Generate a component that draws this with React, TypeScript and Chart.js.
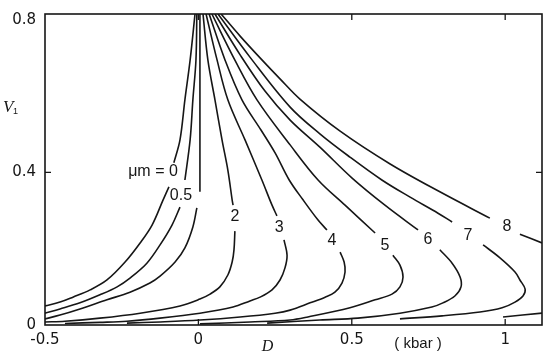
import React, { useEffect, useRef } from "react";
import { Chart, registerables } from "chart.js";

Chart.register(...registerables);

type Pt = [number, number] | null;

// Curves (D in kbar, V1), null marks a break where the curve label sits
const mu0: Pt[] = [[-0.011, 0.815], [-0.027, 0.694], [-0.044, 0.590], [-0.060, 0.485], [-0.080, 0.425], null, [-0.096, 0.362], [-0.115, 0.328], [-0.151, 0.262], [-0.190, 0.215], [-0.239, 0.165], [-0.298, 0.118], [-0.353, 0.092], [-0.409, 0.073], [-0.451, 0.060], [-0.500, 0.050]];
const mu05: Pt[] = [[-0.005, 0.815], [-0.008, 0.694], [-0.018, 0.590], [-0.027, 0.485], [-0.044, 0.380], null, [-0.060, 0.309], [-0.086, 0.262], [-0.125, 0.210], [-0.168, 0.162], [-0.223, 0.123], [-0.265, 0.100], [-0.321, 0.079], [-0.386, 0.058], [-0.451, 0.042], [-0.500, 0.031]];
const mu1: Pt[] = [[0.005, 0.815], [0.005, 0.694], [0.005, 0.590], [0.005, 0.459], [0.005, 0.349], null, [-0.005, 0.307], [-0.018, 0.257], [-0.044, 0.202], [-0.076, 0.165], [-0.125, 0.128], [-0.158, 0.110], [-0.223, 0.086], [-0.298, 0.066], [-0.386, 0.042], [-0.451, 0.026], [-0.500, 0.016]];
const mu2: Pt[] = [[0.015, 0.815], [0.031, 0.694], [0.054, 0.590], [0.077, 0.485], [0.096, 0.406], [0.110, 0.328], [0.113, 0.314], null, [0.119, 0.246], [0.116, 0.197], [0.110, 0.165], [0.096, 0.131], [0.070, 0.100], [0.038, 0.081], [0.005, 0.068], [-0.060, 0.050], [-0.190, 0.031], [-0.321, 0.018], [-0.435, 0.010], [-0.500, 0.008]];
const mu3: Pt[] = [[0.025, 0.815], [0.061, 0.694], [0.096, 0.590], [0.152, 0.485], [0.207, 0.380], [0.240, 0.314], [0.256, 0.286], null, [0.279, 0.223], [0.289, 0.183], [0.282, 0.149], [0.266, 0.118], [0.240, 0.092], [0.201, 0.073], [0.168, 0.063], [0.113, 0.047], [0.005, 0.031], [-0.125, 0.018], [-0.233, 0.010], [-0.321, 0.007], [-0.435, 0.004]];
const mu4: Pt[] = [[0.035, 0.815], [0.087, 0.694], [0.142, 0.590], [0.204, 0.511], [0.250, 0.451], [0.296, 0.380], [0.341, 0.328], [0.390, 0.275], [0.419, 0.249], null, [0.462, 0.191], [0.475, 0.165], [0.478, 0.139], [0.468, 0.110], [0.445, 0.086], [0.413, 0.073], [0.364, 0.058], [0.299, 0.039], [0.250, 0.031], [0.136, 0.021], [0.005, 0.013], [-0.125, 0.008], [-0.233, 0.005]];
const mu5: Pt[] = [[0.044, 0.815], [0.119, 0.694], [0.191, 0.590], [0.299, 0.472], [0.390, 0.380], [0.478, 0.314], [0.576, 0.241], null, [0.634, 0.183], [0.657, 0.157], [0.667, 0.126], [0.657, 0.100], [0.631, 0.081], [0.576, 0.066], [0.494, 0.045], [0.357, 0.021], [0.299, 0.013], [0.168, 0.008], [0.005, 0.003]];
const mu6: Pt[] = [[0.054, 0.815], [0.136, 0.708], [0.217, 0.613], [0.299, 0.537], [0.396, 0.466], [0.501, 0.385], [0.608, 0.314], [0.716, 0.249], null, [0.787, 0.197], [0.827, 0.162], [0.853, 0.126], [0.856, 0.100], [0.836, 0.076], [0.797, 0.058], [0.761, 0.047], [0.657, 0.031], [0.520, 0.018], [0.396, 0.013], [0.224, 0.005]];
const mu7: Pt[] = [[0.064, 0.815], [0.168, 0.702], [0.299, 0.571], [0.396, 0.501], [0.494, 0.440], [0.598, 0.380], [0.690, 0.335], [0.781, 0.293], [0.827, 0.270], null, [0.928, 0.210], [0.983, 0.176], [1.032, 0.139], [1.048, 0.118], [1.065, 0.094], [1.058, 0.076], [1.032, 0.060], [0.990, 0.045], [0.918, 0.034], [0.794, 0.024], [0.657, 0.016]];
const mu8: Pt[] = [[0.074, 0.815], [0.136, 0.757], [0.201, 0.700], [0.266, 0.645], [0.331, 0.592], [0.462, 0.508], [0.625, 0.422], [0.787, 0.349], [0.950, 0.280], null, [1.048, 0.238], [1.120, 0.215], null, [1.120, 0.031], [0.993, 0.021]];

const curves: Pt[][] = [mu0, mu05, mu1, mu2, mu3, mu4, mu5, mu6, mu7, mu8];
const curveNames = ["0", "0.5", "1", "2", "3", "4", "5", "6", "7", "8"];

const xTicks = [-0.5, 0, 0.5, 1];
const yTicks = [0, 0.4, 0.8];
const xMin = -0.5;
const xMax = 1.12;
const yMin = 0;
const yMax = 0.815;

// curve labels, anchored in data units
const curveLabels = [
  { text: "μm = 0", x: -0.148, y: 0.401 },
  { text: "0.5", x: -0.057, y: 0.338 },
  { text: "2", x: 0.119, y: 0.283 },
  { text: "3", x: 0.263, y: 0.254 },
  { text: "4", x: 0.435, y: 0.220 },
  { text: "5", x: 0.608, y: 0.207 },
  { text: "6", x: 0.748, y: 0.225 },
  { text: "7", x: 0.879, y: 0.233 },
  { text: "8", x: 1.006, y: 0.257 },
];

const INK = "#161616";

function splitSegments(pts: Pt[]) {
  const out: { x: number; y: number }[][] = [];
  let cur: { x: number; y: number }[] = [];
  for (const p of pts) {
    if (p === null) {
      if (cur.length) out.push(cur);
      cur = [];
    } else cur.push({ x: p[0], y: p[1] });
  }
  if (cur.length) out.push(cur);
  return out;
}

const decorPlugin = {
  id: "decor",
  afterDatasetsDraw(chart: any) {
    const { ctx, chartArea: a } = chart;
    const xs = chart.scales.x;
    const ys = chart.scales.y;
    ctx.save();
    ctx.strokeStyle = INK;
    ctx.lineWidth = 1.6;
    ctx.strokeRect(a.left, a.top, a.right - a.left, a.bottom - a.top);
    ctx.lineWidth = 1.3;
    ctx.beginPath();
    for (const v of xTicks) {
      if (v <= xMin || v >= xMax) continue;
      const px = xs.getPixelForValue(v);
      ctx.moveTo(px, a.bottom);
      ctx.lineTo(px, a.bottom - 6);
      ctx.moveTo(px, a.top);
      ctx.lineTo(px, a.top + 6);
    }
    for (const v of yTicks) {
      if (v <= yMin || v >= yMax - 0.05) continue;
      const py = ys.getPixelForValue(v);
      ctx.moveTo(a.left, py);
      ctx.lineTo(a.left + 6, py);
      ctx.moveTo(a.right, py);
      ctx.lineTo(a.right - 6, py);
    }
    ctx.stroke();

    ctx.fillStyle = INK;
    ctx.textAlign = "center";
    ctx.textBaseline = "middle";
    ctx.font = '16px "Liberation Sans"';
    for (const l of curveLabels) {
      ctx.fillText(l.text, xs.getPixelForValue(l.x), ys.getPixelForValue(l.y));
    }
    ctx.font = 'italic 16px "Liberation Serif"';
    ctx.fillText("D", xs.getPixelForValue(0.225), a.bottom + 22);
    ctx.font = '15px "Liberation Sans"';
    ctx.fillText("( kbar )", xs.getPixelForValue(0.716), a.bottom + 19);

    const ty = ys.getPixelForValue(0.569);
    ctx.textAlign = "left";
    ctx.font = 'italic 17px "Liberation Serif"';
    ctx.fillText("V", 3, ty);
    ctx.font = '9px "Liberation Sans"';
    ctx.fillText("1", 13, ty + 4);
    ctx.restore();
  },
};

export default function App() {
  const ref = useRef<HTMLCanvasElement>(null);
  useEffect(() => {
    document.body.style.margin = "0";
    const datasets: any[] = [];
    curves.forEach((c, i) => {
      splitSegments(c).forEach((seg) => {
        datasets.push({
          label: "μm = " + curveNames[i],
          data: seg,
          showLine: true,
          borderColor: INK,
          backgroundColor: INK,
          borderWidth: 1.6,
          pointRadius: 0,
          tension: 0.35,
          fill: false,
        });
      });
    });
    const tickFont = { family: "DejaVu Sans", size: 15 };
    const chart = new Chart(ref.current as HTMLCanvasElement, {
      type: "scatter",
      data: { datasets },
      options: {
        animation: false,
        responsive: false,
        devicePixelRatio: 1,
        events: [],
        layout: { padding: { top: 14, right: 8, left: 0, bottom: 0 } },
        plugins: { legend: { display: false }, tooltip: { enabled: false } },
        scales: {
          x: {
            type: "linear",
            min: xMin,
            max: xMax,
            grid: { display: false, drawTicks: false },
            border: { display: false },
            afterBuildTicks: (s: any) => {
              s.ticks = xTicks.map((value) => ({ value }));
            },
            afterFit: (s: any) => {
              s.height = 33;
              s.paddingLeft = 0;
              s.paddingRight = 0;
            },
            ticks: {
              padding: 6,
              color: INK,
              font: tickFont,
              maxRotation: 0,
              autoSkip: false,
              callback: (v: any) => String(v),
            },
          },
          y: {
            type: "linear",
            min: yMin,
            max: yMax,
            grid: { display: false, drawTicks: false },
            border: { display: false },
            afterBuildTicks: (s: any) => {
              s.ticks = yTicks.map((value) => ({ value }));
            },
            afterFit: (s: any) => {
              s.width = 45;
              s.paddingTop = 0;
              s.paddingBottom = 0;
            },
            ticks: {
              padding: 9,
              color: INK,
              font: tickFont,
              autoSkip: false,
              callback: (v: any) => String(v),
            },
          },
        },
      } as any,
      plugins: [decorPlugin],
    });
    return () => chart.destroy();
  }, []);
  return (
    <div style={{ width: 550, height: 358 }}>
      <canvas ref={ref} width={550} height={358} style={{ display: "block" }} />
    </div>
  );
}
